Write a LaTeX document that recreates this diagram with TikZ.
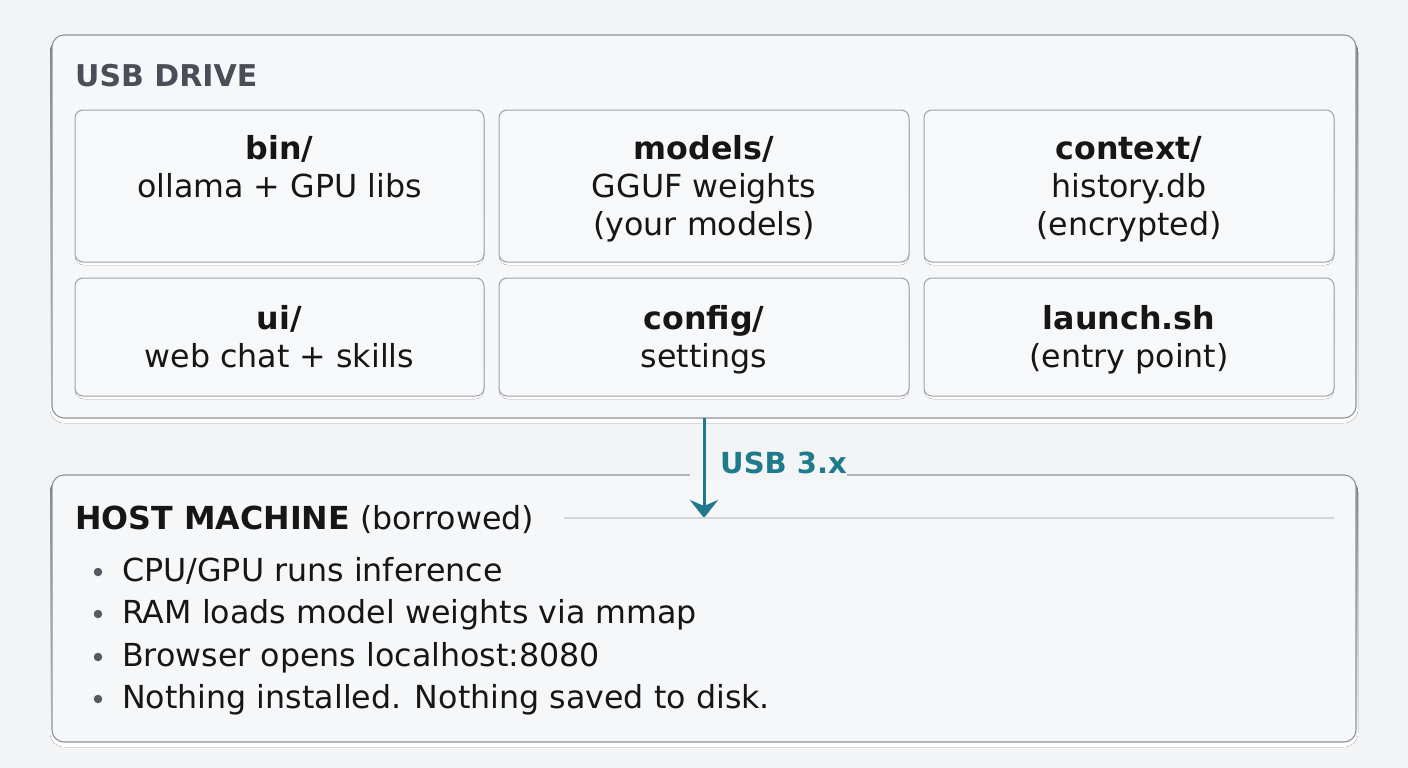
\documentclass[tikz,border=0pt]{standalone}
\usepackage{fontspec}
\setmainfont{DejaVu Sans}
\usetikzlibrary{arrows.meta}
\definecolor{bgc}{HTML}{F2F4F6}
\definecolor{boxfill}{HTML}{F6F7F9}
\definecolor{cellfill}{HTML}{F7F8FA}
\definecolor{outerline}{HTML}{8E9298}
\definecolor{cellline}{HTML}{9EA2A8}
\definecolor{teal}{HTML}{1F7A8C}
\definecolor{titlegray}{HTML}{4A4F57}
\definecolor{txt}{HTML}{161616}
\definecolor{dotgray}{HTML}{555A60}
\definecolor{rulegray}{HTML}{D2D6DA}
\definecolor{shade}{HTML}{E6E9EC}
\newcommand\bodyfont{\fontsize{31.7}{38}\selectfont}
\tikzset{
  x=1pt,y=-1pt,
  panel/.style={draw=outerline, line width=1.1pt, fill=boxfill, rounded corners=12pt},
  cell/.style={draw=cellline, line width=1pt, fill=cellfill, rounded corners=8pt},
  celltext/.style={font=\bodyfont, text=txt, align=center, inner sep=0pt, yshift=-3.4pt},
  bul/.style={circle, fill=dotgray, inner sep=0pt, minimum size=8.5pt},
  bultext/.style={font=\bodyfont, text=txt, anchor=base west, inner sep=0pt},
}
\begin{document}
\begin{tikzpicture}
\useasboundingbox (0,0) rectangle (1408,768);
\fill[bgc] (0,0) rectangle (1408,768);
% soft shadows
\fill[shade, rounded corners=14pt] (50,38) rectangle (1358,423);
\fill[shade, rounded corners=14pt] (50,478) rectangle (1358,747);
% USB drive panel
\draw[panel] (52,35) rectangle (1356,418);
\node[coordinate] (usbS) at (704,418) {};
\node[font=\bfseries\fontsize{30}{38}\selectfont, text=titlegray, anchor=base west, inner sep=0pt] (usbtitle) at (75,86) {USB DRIVE};
% cells
\foreach \a/\b/\c/\d in {75/110/484/262, 499/110/909/262, 924/110/1334/262, 75/278/484/396, 499/278/909/396, 924/278/1334/396}{
  \fill[shade, rounded corners=9pt] (\a,\b+2) rectangle (\c,\d+3);
  \path[cell] (\a,\b) rectangle (\c,\d);
}
\node[celltext] (bin) at (279.5,186) {\strut\textbf{bin/}\\\strut ollama + GPU libs\\\strut};
\node[celltext] (models) at (704,186) {\strut\textbf{models/}\\\strut GGUF weights\\\strut(your models)};
\node[celltext] (context) at (1129,186) {\strut\textbf{context/}\\\strut history.db\\\strut(encrypted)};
\node[celltext] (ui) at (279.5,337) {\strut\textbf{ui/}\\\strut web chat + skills};
\node[celltext] (config) at (704,337) {\strut\textbf{config/}\\\strut settings};
\node[celltext] (launch) at (1129,337) {\strut\textbf{launch.sh}\\\strut(entry point)};
% host panel
\draw[panel] (52,475) rectangle (1356,742);
\node[fill=bgc, anchor=west, inner xsep=0pt, inner ysep=6pt, font=\bfseries\fontsize{29}{38}\selectfont, text=teal] (usblabel) at (690,463) {\hspace{30pt}USB 3.x\hspace{15pt}};
\node[coordinate] (tip) at (704,518) {};
\draw[teal, line width=3pt, -{Stealth[length=18pt,width=28pt,inset=6pt]}] (usbS) -- (tip);
\node[font=\bodyfont, text=txt, anchor=base west, inner sep=0pt] (hosthead) at (75,529) {\textbf{HOST MACHINE} (borrowed)};
\node[coordinate] (ruleE) at (1334,518) {};
\draw[rulegray, line width=1.2pt] ([xshift=30pt]hosthead.east |- ruleE) -- (ruleE);
\node[bul] (b1) at (98,572) {};
\node[bul] (b2) at (98,614) {};
\node[bul] (b3) at (98,657) {};
\node[bul] (b4) at (98,699) {};
\node[bultext] (t1) at (122,581) {CPU/GPU runs inference};
\node[bultext] (t2) at (122,623) {RAM loads model weights via mmap};
\node[bultext] (t3) at (122,666) {Browser opens localhost:8080};
\node[bultext] (t4) at (122,708) {Nothing installed. Nothing saved to disk.};
\end{tikzpicture}
\end{document}
